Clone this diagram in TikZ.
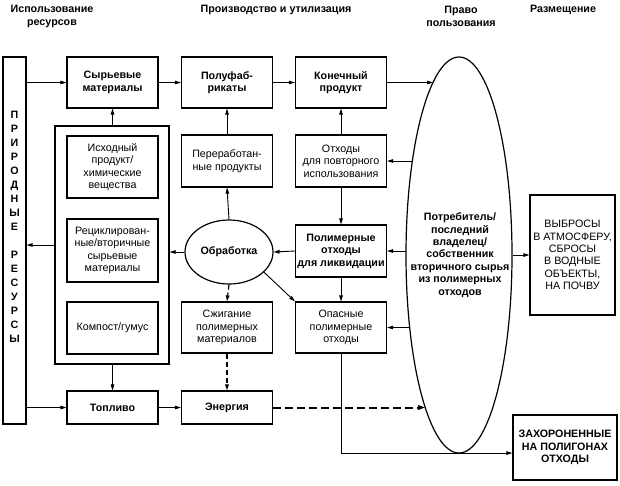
\documentclass[tikz,border=0pt]{standalone}
\usepackage{fontspec}
\setmainfont{Liberation Sans}
\usetikzlibrary{arrows.meta,calc,shapes.geometric}
\begin{document}
\begin{tikzpicture}[x=1pt,y=-1pt,
  txt/.style={font=\fontsize{10.7}{12.4}\selectfont},
  btxt/.style={font=\fontsize{10.7}{12.4}\selectfont\bfseries},
  box/.style={draw, line width=1.2pt, inner sep=1pt, align=center, minimum width=91pt, minimum height=51pt},
  hdr/.style={font=\fontsize{10.7}{13}\selectfont\bfseries, align=center},
  arr/.style={line width=0.9pt, -{Triangle[length=6pt,width=3.6pt]}},
  darr/.style={line width=1.2pt, dashed, dash pattern=on 5pt off 3pt, -{Triangle[length=6pt,width=3.6pt]}},
  tdarr/.style={line width=2pt, dash pattern=on 8pt off 4pt, -{Triangle[length=7pt,width=4.5pt]}}
]
\useasboundingbox (0,0) rectangle (620,485);
\fill[white] (0,0) rectangle (620,485);

% headers
\node[hdr] (h1) at (52,16) {Использование\\ресурсов};
\node[hdr] (h2) at (276,10) {Производство и утилизация};
\node[hdr] (h3) at (461,16) {Право\\пользования};
\node[hdr] (h4) at (563,10) {Размещение};

% natural resources
\node[draw, line width=1.2pt, minimum width=23pt, minimum height=367pt, inner sep=0] (nat) at (14.5,240.5) {};
\node[font=\fontsize{10.7}{14}\selectfont\bfseries, align=center, inner sep=0] (natl) at (14.5,227)
  {П\\Р\\И\\Р\\О\\Д\\Н\\Ы\\Е\\[14pt]Р\\Е\\С\\У\\Р\\С\\Ы};

% top row
\node[box, btxt] (syr) at (112.5,82.5) {Сырьевые\\материалы};
\node[box, btxt] (pol) at (227,82.5) {Полуфаб-\\рикаты};
\node[box, btxt] (kon) at (341,82.5) {Конечный\\продукт};

% container
\node[draw, line width=1.2pt, minimum width=114pt, minimum height=238pt, inner sep=0] (cont) at (112,245) {};
\node[box, txt, minimum height=62pt] (ish) at (112.5,167) {Исходный\\продукт/\\химические\\вещества};
\node[box, txt, minimum height=63pt] (rec) at (112.5,250.5) {Рециклирован-\\ные/вторичные\\сырьевые\\материалы};
\node[box, txt, minimum height=52pt] (komp) at (112.5,328) {Компост/гумус};

% middle column
\node[box, txt, minimum height=52pt] (per) at (227,161) {Переработан-\\ные продукты};
\node[draw, ellipse, line width=1.2pt, minimum width=88pt, minimum height=64pt, inner sep=0, btxt] (obr) at (229,252) {Обработка};
\node[box, txt, minimum height=51pt] (szh) at (227,327.5) {Сжигание\\полимерных\\материалов};

% right column
\node[box, txt, minimum height=52pt] (otp) at (341,161) {Отходы\\для повторного\\использования};
\node[box, btxt, minimum height=52pt] (lik) at (341,251) {Полимерные\\отходы\\для ликвидации};
\node[box, txt, minimum height=51pt] (opas) at (341,327.5) {Опасные\\полимерные\\отходы};

% bottom row
\node[box, btxt, minimum height=33pt] (top) at (112.5,407.5) {Топливо};
\node[box, btxt, minimum height=33pt] (ene) at (227,407.5) {Энергия};

% consumer ellipse
\node[draw, ellipse, line width=1.2pt, minimum width=106pt, minimum height=396pt, inner sep=0] (cons) at (459,255) {};
\node[btxt, align=center] (consl) at (460,255) {Потребитель/\\последний\\владелец/\\собственник\\вторичного сырья\\из полимерных\\отходов};

% right boxes
\node[box, txt, inner sep=0pt, minimum width=85pt, minimum height=120pt] (vyb) at (572.5,255) {ВЫБРОСЫ\\В АТМОСФЕРУ,\\СБРОСЫ\\В ВОДНЫЕ\\ОБЪЕКТЫ,\\НА ПОЧВУ};
\node[box, btxt, minimum width=104pt, minimum height=65pt] (zah) at (565,447.5) {ЗАХОРОНЕННЫЕ\\НА ПОЛИГОНАХ\\ОТХОДЫ};

% ellipse border points
\coordinate (e1) at (433,82.5);
\coordinate (e2) at (412.4,161);
\coordinate (e3) at (406,251);
\coordinate (e4) at (409.6,327.5);
\coordinate (e5) at (425.2,407.5);

% connectors
\draw[arr] (nat.east |- syr.west) -- (syr.west);
\draw[arr] (syr) -- (pol);
\draw[arr] (pol) -- (kon);
\draw[arr] (kon.east) -- (e1);
\draw[arr] (syr.south |- cont.north) -- (syr.south);
\draw[arr] (cont.west) -- (cont.west -| nat.east);
\draw[arr] (obr.west) -- (obr.west -| cont.east);
\draw[arr] (obr.north) -- (per.south);
\draw[arr] (per.north) -- (pol.south);
\draw[arr] (lik.west) -- (obr.east);
\draw[arr] (obr.-30) -- (opas.north west);
\draw[darr] (obr.south) -- (szh.north);
\draw[darr] (szh.south) -- (ene.north);
\draw[arr] (top.north |- cont.south) -- (top.north);
\draw[arr] (nat.east |- top.west) -- (top.west);
\draw[arr] (top) -- (ene);
\draw[tdarr] (ene.east) -- (e5);
\draw[arr] (otp.north) -- (kon.south);
\draw[arr] (e2) -- (otp.east);
\draw[arr] (otp.south) -- (lik.north);
\draw[arr] (e3) -- (lik.east);
\draw[arr] (lik.south) -- (opas.north);
\draw[arr] (e4) -- (opas.east);
\draw[arr] (cons.east) -- (vyb.west);
\draw[arr] (opas.south) |- ($(zah.west)+(0,5.5)$);
\end{tikzpicture}
\end{document}
